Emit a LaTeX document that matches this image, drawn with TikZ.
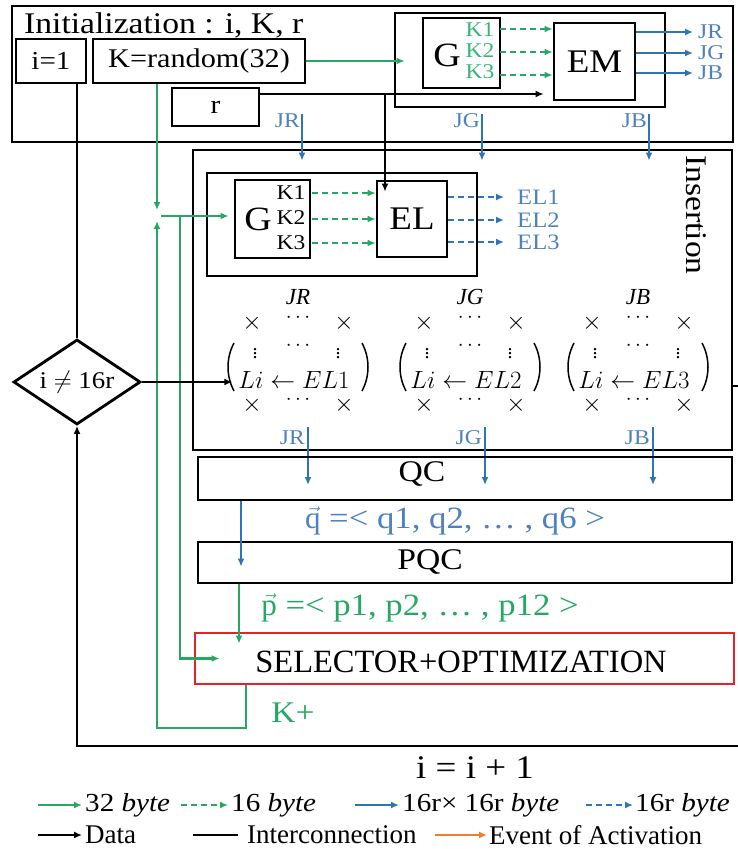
\documentclass[tikz,border=0pt]{standalone}
\usepackage{fontspec}
\setmainfont{Liberation Serif}
\newfontfamily\cambria[FakeStretch=1.12]{Liberation Serif}
\usetikzlibrary{shapes.geometric,arrows.meta}
\definecolor{grn}{RGB}{38,168,100}
\definecolor{lgrn}{RGB}{60,180,120}
\definecolor{blu}{RGB}{46,117,182}
\definecolor{lblu}{RGB}{79,129,189}
\definecolor{redb}{RGB}{232,32,42}
\definecolor{orng}{RGB}{237,125,49}
\newcommand{\fs}[1]{\fontsize{#1}{#1}\selectfont}
\newcommand{\mkbox}[7][]{\node[box,#1,minimum width={#5pt-#3pt},minimum height={#6pt-#4pt}] (#2) at ({(#3+#5)/2},{(#4+#6)/2}) {#7};}
\begin{document}
\begin{tikzpicture}[x=1pt,y=-1pt,
  box/.style={draw=black,line width=2.8pt,inner sep=0pt,rectangle,font=\cambria\fs{26}},
  txt/.style={inner sep=0pt,font=\cambria\fs{24}},
  arr/.style={-{Latex[length=8pt,width=7pt]},line width=2.2pt},
  garr/.style={arr,draw=grn},
  gdash/.style={garr,dash pattern=on 6pt off 4pt},
  barr/.style={arr,draw=blu},
  bdash/.style={barr,dash pattern=on 6pt off 4pt},
  karr/.style={arr,draw=black},
  kline/.style={line width=2.2pt,draw=black},
  lab/.style={txt,text=lblu,font=\cambria\fs{21}},
  mth/.style={inner sep=0pt,font=\fs{23}},
  dts/.style={inner sep=0pt,font=\fs{20}}]
\useasboundingbox (0,0) rectangle (738,849);
% ---------- initialization ----------
\mkbox{init}{12}{6}{733}{142}{}
\node[txt,anchor=base west,font=\cambria\fs{30}] (title) at (24,33) {Initialization : i, K, r};
\mkbox{ibox}{16}{39}{86}{83}{i=1}
\mkbox[font=\cambria\fs{27}]{kbox}{93}{39}{305}{83}{K=random(32)}
\mkbox{rbox}{172}{88}{259}{126}{r}
\mkbox{inner1}{395}{13}{665}{107}{}
\mkbox{g1}{423}{18}{500}{88}{}
\node[txt,font=\cambria\fs{34}] (g1t) at (447,55) {G};
\node[txt,text=lgrn,font=\cambria\fs{21}] (k11) at (480,30) {K1};
\node[txt,text=lgrn,font=\cambria\fs{21}] (k12) at (480,51) {K2};
\node[txt,text=lgrn,font=\cambria\fs{21}] (k13) at (480,72) {K3};
\mkbox[font=\cambria\fs{33}]{em}{554}{23}{635}{100}{EM}
\foreach \y in {29,52,75} {\draw[gdash] (500,\y) -- (em.west |- 0,\y);}
\foreach \y/\l in {32/JR,53/JG,73/JB} {
  \draw[barr] (em.east |- 0,\y) -- (693,\y);
  \node[lab,anchor=west] at (698,\y) {\l};}
\draw[garr,shorten >=17pt] (kbox.east) -- (g1.west |- kbox.east);
% r data line
\coordinate (rv) at (385,94);
\draw[karr,shorten >=9pt] (rbox.east |- rv) -- (em.west |- rv);
% ---------- insertion ----------
\mkbox{ins}{193}{150}{732}{450}{}
\node[txt,rotate=-90,font=\cambria\fs{30}] (inst) at (696,215) {Insertion};
\mkbox{inner2}{207}{173}{477}{276}{}
\mkbox{g2}{235}{180}{310}{258}{}
\node[txt,font=\cambria\fs{34}] (g2t) at (258,219) {G};
\node[txt,font=\cambria\fs{21}] (k21) at (291,193) {K1};
\node[txt,font=\cambria\fs{21}] (k22) at (291,218) {K2};
\node[txt,font=\cambria\fs{21}] (k23) at (291,243) {K3};
\mkbox[font=\cambria\fs{33}]{el}{377}{181}{447}{257}{EL}
\foreach \y in {193,219,243} {\draw[gdash] (312,\y) -- (el.west |- 0,\y);}
\foreach \y/\l in {197/EL1,220/EL2,242/EL3} {
  \draw[bdash] (el.east |- 0,\y) -- (504,\y);
  \node[lab,anchor=west,font=\cambria\fs{22}] at (517,\y) {\l};}
\draw[karr] (rv) -- ([yshift=-12pt]el.north -| rv);
% blue arrows into insertion
\foreach \x/\l in {302/JR,482/JG,649/JB} {
  \draw[barr] (\x,114) -- ([yshift=-12pt]ins.north -| \x,0);
  \node[lab,anchor=east] at ({\x-2},121) {\l};}
% matrices
\foreach \c/\l/\n in {298/JR/1,470/JG/2,638/JB/3} {
  \node[mth] (ml\n) at (\c,297) {$\mathit{\l}$};
  \node[mth] (xa\n) at ({\c-46},323) {$\times$};
  \node[dts] (da\n) at (\c,318) {$\cdots$};
  \node[mth] (xb\n) at ({\c+46},323) {$\times$};
  \node[dts] (va\n) at ({\c-43},351) {$\vdots$};
  \node[dts] (db\n) at (\c,346) {$\cdots$};
  \node[dts] (vb\n) at ({\c+40},351) {$\vdots$};
  \node[mth] (li\n) at ({\c-4},380) {$Li\leftarrow EL\n$};
  \node[mth] (xc\n) at ({\c-46},405) {$\times$};
  \node[dts] (dc\n) at (\c,400) {$\cdots$};
  \node[mth] (xd\n) at ({\c+46},405) {$\times$};
  \draw[line width=1.5pt] ({\c-64},343) .. controls ({\c-72},358) and ({\c-72},376) .. ({\c-64},391);
  \draw[line width=1.5pt] ({\c+64},343) .. controls ({\c+72},358) and ({\c+72},376) .. ({\c+64},391);
}
\foreach \x/\l in {308/JR,485/JG,653/JB} {
  \draw[barr] (\x,427) -- (\x,485);
  \node[lab,anchor=east] at ({\x-3},438) {\l};}
% ---------- QC / PQC / selector ----------
\mkbox{qc}{198}{457}{732}{500}{}
\node[txt,font=\cambria\fs{30}] (qct) at (422,474) {QC};
\mkbox{pqc}{198}{542}{732}{583}{}
\node[txt,font=\cambria\fs{30}] (pqct) at (430,562) {PQC};
\node[txt,text=lblu,font=\cambria\fs{31}] (ql) at (455,521) {$\vec{\textrm{q}}$ =< q1, q2, … , q6 >};
\node[txt,text=grn,font=\cambria\fs{31}] (pl) at (420,608) {$\vec{\textrm{p}}$ =< p1, p2, … , p12 >};
\mkbox[draw=redb]{sel}{195}{633}{734}{684}{}
\node[txt,font=\fs{32.5}] (selt) at (461,662) {SELECTOR+OPTIMIZATION};
\coordinate (bq) at (241,0);
\draw[barr] (qc.south -| bq) -- ([yshift=-26pt]pqc.north -| bq);
\coordinate (gp) at (239,0);
\draw[garr] (pqc.south -| gp) -- ([yshift=-12pt]sel.north -| gp);
% green K lines
\coordinate (gv) at (157,0);
\draw[garr] (kbox.south -| gv) -- (157,210);
\draw[garr,shorten >=5pt] (161,216) -- (g2.west |- 0,216);
\draw[garr] (180,216) |- ([xshift=26pt]sel.west);
\coordinate (kp) at (246,0);
\draw[garr] (sel.south -| kp) |- (157,728) -- (157,221);
\node[txt,text=grn,font=\cambria\fs{30}] (kplus) at (293,713) {K+};
% ---------- decision loop ----------
\node[diamond,aspect=1.5,draw=black,line width=2.8pt,inner sep=0pt,minimum width=127pt,minimum height=85pt,font=\cambria\fs{24}] (dia) at (77,382) {i $\neq$ 16r};
\draw[kline] (ibox.south -| dia.north) -- (dia.north);
\draw[karr] (dia.east) -- ([xshift=-6pt]dia.east -| li1.west);
\draw[kline] (ins.east |- 0,386) -- (738,386);
\draw[karr] (738,746) -| (dia.south);
\node[txt,font=\cambria\fs{33}] (inc) at (475,768) {i = i + 1};
% ---------- legend ----------
\begin{scope}[every node/.style={txt,anchor=west,font=\cambria\fs{26}}]
\draw[garr] (38,805) -- (82,805); \node (l1) at (85,805) {32 \textit{byte}};
\draw[gdash] (181,805) -- (228,805); \node (l2) at (231,805) {16 \textit{byte}};
\draw[barr] (355,805) -- (399,805); \node (l3) at (402,805) {16r× 16r \textit{byte}};
\draw[bdash] (586,805) -- (633,805); \node (l4) at (635,805) {16r \textit{byte}};
\end{scope}
\begin{scope}[every node/.style={txt,anchor=west,font=\fs{27}}]
\draw[karr] (38,835) -- (82,835); \node (l5) at (85,835) {Data};
\draw[kline] (193,835) -- (238,835); \node (l6) at (247,835) {Interconnection};
\draw[arr,draw=orng] (435,835) -- (487,835); \node (l7) at (489,835) {Event of Activation};
\end{scope}
\end{tikzpicture}
\end{document}
